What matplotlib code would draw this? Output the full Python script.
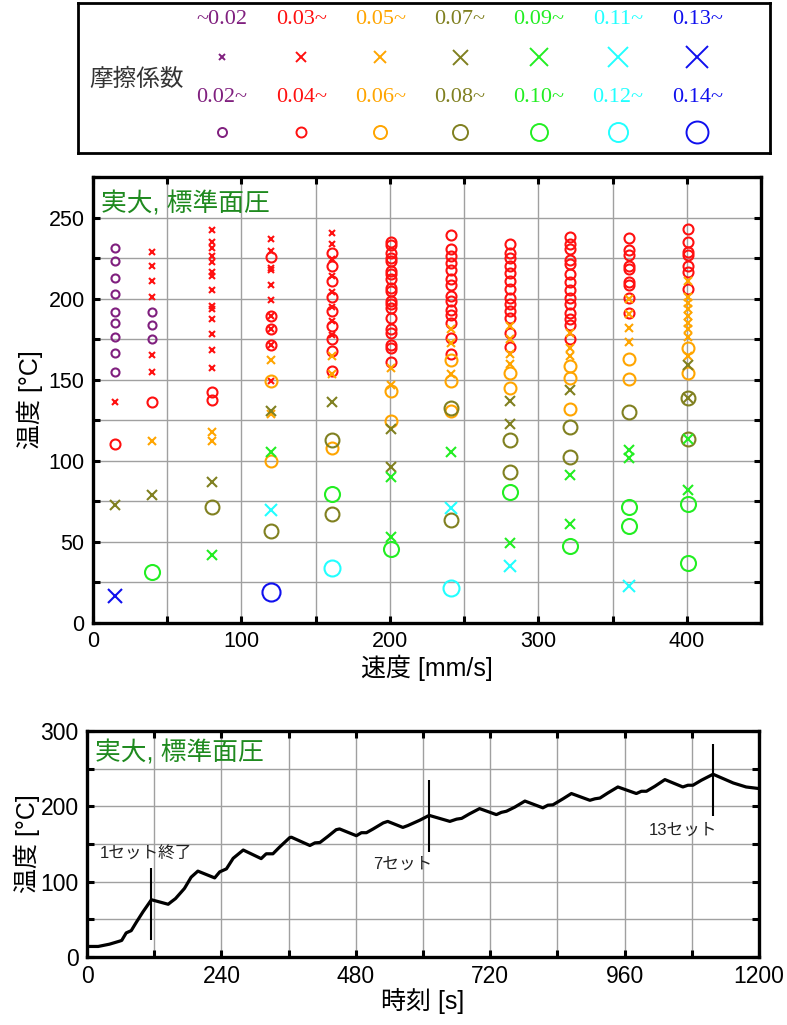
import matplotlib
matplotlib.use("Agg")
import matplotlib.pyplot as plt
from matplotlib.ticker import FuncFormatter

plt.rcParams['font.family'] = ['Liberation Sans', 'Noto Sans CJK JP']

# friction coefficient classes: x = odd step, o = even step
mu_x_labels = ["~0.02", "0.03~", "0.05~", "0.07~", "0.09~", "0.11~", "0.13~"]
mu_o_labels = ["0.02~", "0.04~", "0.06~", "0.08~", "0.10~", "0.12~", "0.14~"]
mu_colors = ["#80207f", "#ff1010", "#ffa500", "#808020", "#22ee22", "#22ffff", "#1010ee"]

# speed [mm/s] -> temperatures [C] for each class
x_002 = {}
o_002 = {15: [231, 223, 213, 203, 192, 185, 176.5, 166.5, 155], 40: [192, 183.5, 175]}
x_003 = {15: [136.5], 40: [228.5, 220, 211, 201, 165.5, 154.5],
         80: [242.3, 234.9, 231.4, 226.3, 222.8, 216.4, 213.9, 205.1, 195.4, 193.8, 187.2, 177.9, 168.2, 157.3],
         120: [236.6, 229.3, 219.1, 217.6, 208.6, 198.9, 189.2, 181.0, 171.7, 149],
         161: [240.7, 233.5, 224.6, 213.9, 204.0, 195.0, 186.5, 177.3]}
o_004 = {15: [110.6], 40: [136.5], 80: [142.3, 137.7], 120: [225.9, 189.2, 181.0, 171.7],
         161: [228.3, 220.1, 210.8, 200.9, 192.3, 183.4, 175.2, 167.6, 155.2],
         201: [234.9, 232.9, 228.3, 225.3, 223.2, 217.0, 214.9, 211.9, 206.7, 204.6, 198.5, 196.4, 194.4,
               188.2, 181.0, 178.9, 171.7, 169.7, 160.8],
         241: [239.1, 230.9, 226.2, 222.1, 217.6, 212.2, 208.7, 201.5, 198.5, 193.3, 189.8, 185.2, 175.9, 166.1],
         281: [233.4, 228.3, 225.2, 220.0, 215.5, 210.8, 205.7, 200.5, 196.4, 192.3, 188.2, 179.0, 170.4],
         321: [238.1, 233.4, 230.3, 224.1, 221.1, 214.9, 210.2, 205.3, 200.5, 196.4, 191.3, 187.6, 183.5, 174.9],
         361: [237.5, 229.7, 226.6, 220.4, 218.0, 210.2, 208.1, 200.5, 191.3],
         401: [242.7, 234.9, 228.7, 226.7, 220.1, 216.4, 206.1]}
x_005 = {40: [112], 80: [118, 112], 120: [162, 129], 161: [164.9, 153.8], 201: [157.3, 147.0],
         241: [181.4, 172.8, 153.3], 281: [183.1, 174.9, 165.6, 159.5], 321: [179.0, 169.8, 164.6],
         361: [199.5, 190.3, 182.1, 173.2],
         401: [210.8, 201.2, 197.5, 193.8, 189.2, 185.1, 181.0, 176.5, 164.5]}
o_006 = {120: [149, 99.8], 161: [108.2], 201: [142.9, 124.6], 241: [162.1, 149.5, 130.7],
         281: [153.9, 144.7], 321: [158.4, 151, 131.7], 361: [163, 150.2], 401: [169.7, 154.2]}
x_007 = {15: [73], 40: [79], 80: [87], 120: [130.7], 161: [136.3], 201: [119.9, 95.9],
         281: [137, 122.5], 321: [143.6], 401: [158.9, 138.8]}
o_008 = {80: [71.6], 120: [56.7], 161: [112.9, 67.1], 241: [132.5, 63.4], 281: [112.9, 92.8],
         321: [121.1, 102.6], 361: [130.1], 401: [138.8, 113.7]}
x_009 = {80: [42.1], 120: [105.5], 201: [90.1, 52.8], 241: [105.5], 281: [49.3], 321: [91.1, 61.0],
         361: [106.7, 102.0], 401: [113.3, 82.1]}
o_010 = {40: [31.2], 161: [79.8], 201: [45.6], 281: [80.9], 321: [47.2], 361: [71.8, 59.9], 401: [73.3, 36.8]}
x_011 = {120: [69.6], 241: [70.6], 281: [35.3], 361: [22.6]}
o_012 = {161: [33.9], 241: [21.4]}
x_013 = {15: [16.8]}
o_014 = {120: [18.9]}

x_groups = [x_002, x_003, x_005, x_007, x_009, x_011, x_013]
o_groups = [o_002, o_004, o_006, o_008, o_010, o_012, o_014]

# time history
time_s = [0, 20, 40, 58, 62, 70, 79, 88, 100, 115, 145, 150, 158, 174, 186, 198, 228, 237, 249, 261, 279,
          311, 320, 332, 344, 362, 365, 398, 407, 416, 430, 445, 451, 481, 490, 499, 511, 529, 537, 564,
          573, 594, 611, 648, 660, 669, 683, 701, 731, 740, 749, 764, 782, 814, 823, 832, 850, 865, 898,
          907, 916, 930, 948, 981, 990, 999, 1014, 1032, 1064, 1073, 1082, 1097, 1118, 1136, 1154, 1177, 1200]
temp_c = [14, 14, 17, 21, 22, 32, 35, 46, 60, 76, 70, 73, 77.5, 91, 106, 114, 105, 113, 117, 131, 142,
          130.6, 137, 137, 146, 158.5, 159, 148, 151.5, 152, 160, 169, 170, 161, 165, 165, 170, 178, 180, 172,
          174.5, 181.5, 188, 180, 183, 184, 190, 197, 189, 192, 193.5, 199, 207, 198, 201.5, 202, 210, 217, 208,
          210, 211, 217.7, 225.7, 217, 220, 220, 226.6, 235.5, 225.7, 228, 228, 234.6, 242.6, 236.8, 231, 225.7, 223.6]
set_times = [115, 611, 1118]
set_low = [23, 139, 187]
set_high = [118, 235, 283]
set_labels = ["1セット終了", "7セット", "13セット"]
set_text_pos = [(105, 137), (563, 123), (1064, 168)]

x_sizes = [3.6, 4.3, 5.8, 6.5, 7.2, 8.6, 9.4]
o_sizes = [5.8, 7.2, 8.6, 10, 10.8, 11.5, 13]
leg_x_sizes = [5, 6.5, 8.6, 10.8, 13, 14.4, 15.8]
leg_o_sizes = [6.5, 7.2, 9.4, 10.8, 12.2, 13.7, 15.8]
title_green = "#1f8a1f"

fig = plt.figure(figsize=(7.87, 10.25), dpi=100)


def style_axes(ax, fs):
    for s in ax.spines.values():
        s.set_linewidth(2.4)
    ax.tick_params(direction='in', length=5, width=2.2, top=True, right=True, labelsize=fs, pad=6)
    ax.grid(True, color='#a0a0a0', linewidth=1.0)
    ax.set_axisbelow(True)


# ---- legend box ----
ax_leg = fig.add_axes([78 / 787, 1 - 153 / 1025, 692 / 787, 150 / 1025])
ax_leg.set_xlim(-1.82, 6.92)
ax_leg.set_ylim(0, 1)
ax_leg.set_xticks([])
ax_leg.set_yticks([])
for s in ax_leg.spines.values():
    s.set_linewidth(2)
ax_leg.text(-1.08, 0.487, "摩擦係数", fontsize=17, color='#333333', ha='center', va='center',
            family='Noto Sans CJK JP')
for i in range(7):
    c = mu_colors[i]
    ax_leg.text(i, 0.887, mu_x_labels[i], color=c, fontsize=16, ha='center', va='center', family='Liberation Serif')
    ax_leg.text(i, 0.367, mu_o_labels[i], color=c, fontsize=16, ha='center', va='center', family='Liberation Serif')
    ax_leg.plot(i, 0.64, 'x', color=c, ms=leg_x_sizes[i], mew=1.4)
    ax_leg.plot(i, 0.14, 'o', mfc='none', mec=c, ms=leg_o_sizes[i], mew=1.4)

# ---- scatter ----
ax1 = fig.add_axes([93 / 787, 1 - 623 / 1025, 668 / 787, 446 / 1025])
style_axes(ax1, 15.5)
for i in range(7):
    for grp, mk, ms in ((o_groups[i], 'o', o_sizes[i]), (x_groups[i], 'x', x_sizes[i])):
        xs = [v for v, temps in grp.items() for _ in temps]
        ys = [t for temps in grp.values() for t in temps]
        if mk == 'o':
            ax1.plot(xs, ys, 'o', mfc='none', mec=mu_colors[i], ms=ms, mew=1.5, ls='none')
        else:
            ax1.plot(xs, ys, 'x', color=mu_colors[i], ms=ms, mew=1.5, ls='none')
ax1.set_xlim(0, 450)
ax1.set_ylim(0, 275)
ax1.set_xticks(range(0, 451, 50))
ax1.set_yticks(range(0, 276, 25))
ax1.xaxis.set_major_formatter(FuncFormatter(lambda v, p: "%d" % v if v % 100 == 0 and v <= 400 else ""))
ax1.yaxis.set_major_formatter(FuncFormatter(lambda v, p: "%d" % v if v % 50 == 0 else ""))
ax1.set_xlabel("速度 [mm/s]", fontsize=18, labelpad=2)
ax1.set_ylabel("温度 [°C]", fontsize=18, labelpad=4)
ax1.text(0.012, 0.968, "実大, 標準面圧", transform=ax1.transAxes, color=title_green, fontsize=18.5,
         ha='left', va='top')

# ---- time history ----
ax2 = fig.add_axes([87 / 787, 1 - 957 / 1025, 672 / 787, 226 / 1025])
style_axes(ax2, 16.5)
ax2.plot(time_s, temp_c, color='black', lw=2.3)
ax2.vlines(set_times, set_low, set_high, color='black', lw=1.5)
for lab, (tx, ty) in zip(set_labels, set_text_pos):
    ax2.text(tx, ty, lab, fontsize=12, color='#222222', ha='center', va='center')
ax2.set_xlim(0, 1200)
ax2.set_ylim(0, 300)
ax2.set_xticks(range(0, 1201, 120))
ax2.set_yticks(range(0, 301, 50))
ax2.xaxis.set_major_formatter(FuncFormatter(lambda v, p: "%d" % v if v % 240 == 0 else ""))
ax2.yaxis.set_major_formatter(FuncFormatter(lambda v, p: "%d" % v if v % 100 == 0 else ""))
ax2.set_xlabel("時刻 [s]", fontsize=18, labelpad=0)
ax2.set_ylabel("温度 [°C]", fontsize=18, labelpad=0)
ax2.text(0.012, 0.96, "実大, 標準面圧", transform=ax2.transAxes, color=title_green, fontsize=18.5,
         ha='left', va='top')

fig.savefig("out.png", dpi=100)
